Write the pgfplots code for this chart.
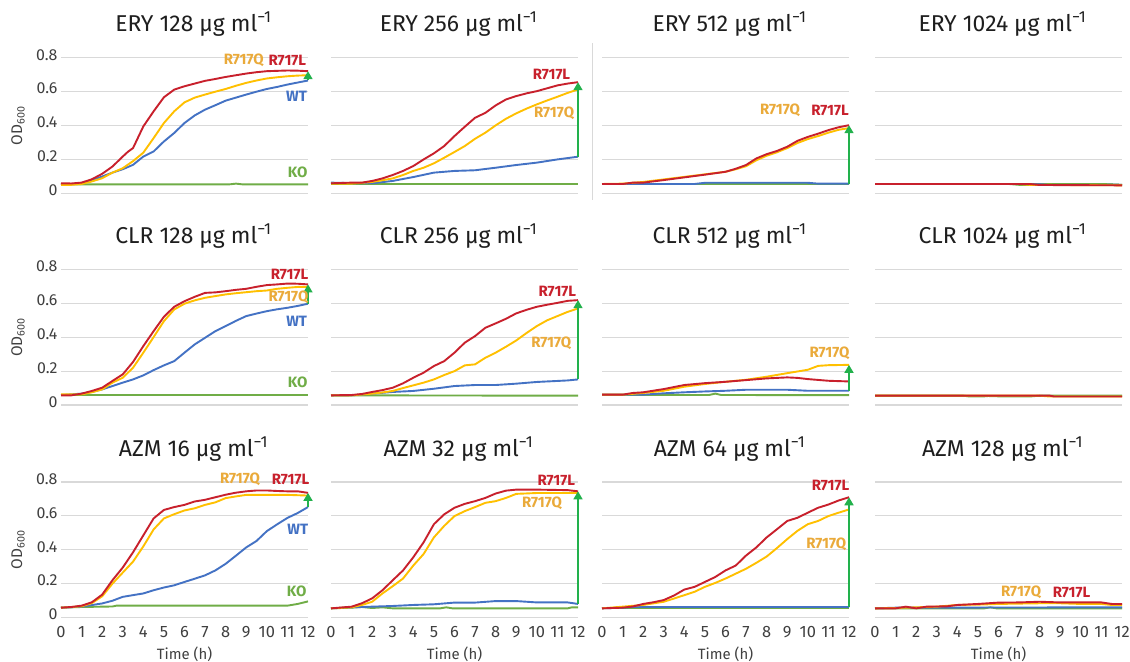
\documentclass[border=0pt]{standalone}
\usepackage{fontspec}
\setmainfont{Fira Sans}
\usepackage{pgfplots}
\pgfplotsset{compat=1.18}
\usetikzlibrary{arrows.meta}

\definecolor{cred}{RGB}{200,32,44}
\definecolor{cyel}{RGB}{255,192,0}
\definecolor{cgold}{RGB}{234,170,58}
\definecolor{cblue}{RGB}{68,114,196}
\definecolor{cgreen}{RGB}{112,173,71}
\definecolor{carrow}{RGB}{34,177,76}
\definecolor{cgrid}{RGB}{217,217,217}
\definecolor{ctext}{RGB}{30,30,30}
\definecolor{ctick}{RGB}{64,64,64}

\newcommand\conc[2]{#1~#2~μg~ml\textsuperscript{−1}}
\newcommand\grow[2]{\draw[carrow, line width=1.6bp, -{Triangle[length=8bp,width=9bp]}] (axis cs:12,#1) -- (axis cs:12,#2);}
\newcommand\lab[4]{\node[font=\fontsize{15}{17}\selectfont\bfseries, text=#1, inner sep=0pt] at (axis cs:#2,#3) {#4};}

\pgfplotsset{
  panel/.style={
    scale only axis, width=247bp, height=135.5bp, anchor=south west,
    xmin=0, xmax=12, ymin=0, ymax=0.8,
    axis line style={draw=none}, major tick style={draw=none},
    ytick={0,0.2,0.4,0.6,0.8}, xtick={0,1,2,3,4,5,6,7,8,9,10,11,12},
    yticklabels={}, xticklabels={},
    ymajorgrids, grid style={line width=1.1bp, draw=cgrid},
    clip=false,
    title style={font=\fontsize{23}{26}\selectfont, text=ctext, at={(0.5,1)}, anchor=base, yshift=20bp, xshift=4bp},
    yticklabel style={font=\fontsize{16}{18}\selectfont, text=ctick, yshift=3bp},
    xticklabel style={font=\fontsize{16.5}{18}\selectfont, text=ctick, yshift=-5bp},
    every axis plot/.append style={line width=1.9bp, line join=round, mark=none},
  },
  firstcol/.style={
    yticklabels={0,0.2,0.4,0.6,0.8},
    ylabel={OD\textsubscript{600}},
    ylabel style={at={(axis description cs:-0.174,0.5)}, anchor=center, font=\fontsize{15.5}{17}\selectfont, text=ctick},
    title style={xshift=5bp},
  },
  lastrow/.style={
    xticklabels={0,1,2,3,4,5,6,7,8,9,10,11,12},
    xlabel={Time (h)},
    xlabel style={at={(axis description cs:0.5,0)}, anchor=center, yshift=-37bp, font=\fontsize{15}{17}\selectfont, text=ctick},
  },
}

\begin{document}
\begin{tikzpicture}
\fill[white, use as bounding box] (0,0) rectangle (1130bp,662bp);
\draw[cgrid, line width=0.8bp] (592bp,462bp) -- (592bp,619bp);

% ---------------- Row 1: ERY ----------------
\begin{axis}[panel, firstcol, at={(61bp,468.7bp)}, title={\conc{ERY}{128}}]
\addplot[cgreen] coordinates {(0,0.053)(8.2,0.053)(8.5,0.057)(8.8,0.053)(12,0.053)};
\addplot[cblue] coordinates {(0,0.053)(0.5,0.054)(1,0.059)(1.5,0.077)(2,0.099)(2.5,0.122)(3,0.142)(3.5,0.168)(4,0.217)(4.5,0.247)(5,0.306)(5.5,0.356)(6,0.415)(6.5,0.46)(7,0.494)(7.5,0.52)(8,0.547)(8.5,0.565)(9,0.583)(9.5,0.6)(10,0.616)(10.5,0.628)(11,0.642)(11.5,0.654)(12,0.666)};
\addplot[cyel] coordinates {(0,0.049)(0.5,0.05)(1,0.055)(1.5,0.07)(2,0.089)(2.5,0.122)(3,0.148)(3.5,0.19)(4,0.24)(4.5,0.326)(5,0.415)(5.5,0.484)(6,0.537)(6.5,0.565)(7,0.583)(7.5,0.6)(8,0.616)(8.5,0.635)(9,0.652)(9.5,0.666)(10,0.678)(10.5,0.685)(11,0.691)(11.5,0.695)(12,0.697)};
\addplot[cred] coordinates {(0,0.059)(0.5,0.058)(1,0.063)(1.5,0.083)(2,0.115)(2.5,0.158)(3,0.217)(3.25,0.245)(3.5,0.267)(4,0.395)(4.5,0.484)(5,0.567)(5.5,0.612)(6,0.632)(6.5,0.648)(7,0.664)(7.5,0.675)(8,0.687)(8.5,0.697)(9,0.707)(9.5,0.715)(10,0.721)(10.5,0.723)(11,0.725)(11.5,0.724)(12,0.721)};
\grow{0.666}{0.721}
\lab{cgold}{8.88}{0.784}{R717Q}
\lab{cred}{11.0}{0.784}{R717L}
\lab{cblue}{11.44}{0.574}{WT}
\lab{cgreen}{11.5}{0.126}{KO}
\end{axis}

\begin{axis}[panel, at={(331bp,468.7bp)}, title={\conc{ERY}{256}}]
\addplot[cgreen] coordinates {(0,0.055)(12,0.055)};
\addplot[cblue] coordinates {(0,0.063)(1,0.06)(2,0.059)(3,0.073)(4,0.096)(5,0.122)(6,0.132)(7,0.136)(8,0.151)(9,0.167)(10,0.181)(11,0.2)(12,0.216)};
\addplot[cyel] coordinates {(0,0.057)(1,0.057)(2,0.067)(2.5,0.077)(3,0.088)(3.5,0.108)(4,0.132)(4.5,0.151)(5,0.177)(5.5,0.21)(6,0.244)(6.5,0.279)(7,0.322)(7.5,0.358)(8,0.401)(8.5,0.44)(9,0.472)(9.5,0.5)(10,0.525)(10.5,0.548)(11,0.57)(11.5,0.593)(12,0.613)};
\addplot[cred] coordinates {(0,0.059)(1,0.063)(1.5,0.063)(2,0.073)(2.5,0.088)(3,0.108)(3.5,0.132)(4,0.161)(4.5,0.2)(5,0.236)(5.5,0.279)(6,0.338)(6.5,0.393)(7,0.446)(7.5,0.475)(8,0.519)(8.5,0.554)(9,0.574)(9.5,0.59)(10,0.603)(10.5,0.62)(11,0.637)(11.5,0.648)(12,0.656)};
\grow{0.216}{0.656}
\lab{cred}{10.71}{0.703}{R717L}
\lab{cgold}{10.84}{0.475}{R717Q}
\end{axis}

\begin{axis}[panel, at={(602bp,468.7bp)}, title={\conc{ERY}{512}}]
\addplot[cgreen] coordinates {(0,0.053)(12,0.053)};
\addplot[cblue] coordinates {(0,0.055)(4.5,0.055)(5,0.062)(10,0.062)(10.5,0.057)(12,0.057)};
\addplot[cyel] coordinates {(0,0.055)(1,0.057)(2,0.067)(3,0.082)(4,0.097)(5,0.112)(6,0.127)(6.5,0.142)(7,0.16)(7.5,0.195)(8,0.222)(8.5,0.242)(9,0.267)(9.5,0.297)(10,0.32)(10.5,0.338)(11,0.358)(11.5,0.375)(12,0.385)};
\addplot[cred] coordinates {(0,0.055)(1,0.055)(1.5,0.063)(2,0.063)(3,0.078)(4,0.094)(5,0.11)(6,0.127)(6.5,0.145)(7,0.167)(7.5,0.206)(8,0.231)(8.5,0.25)(9,0.275)(9.5,0.31)(10,0.333)(10.5,0.352)(11,0.373)(11.5,0.39)(12,0.402)};
\grow{0.057}{0.402}
\lab{cgold}{8.65}{0.49}{R717Q}
\lab{cred}{11.08}{0.49}{R717L}
\end{axis}

\begin{axis}[panel, at={(875bp,468.7bp)}, title={\conc{ERY}{1024}}]
\addplot[cblue] coordinates {(0,0.055)(11,0.055)(12,0.05)};
\addplot[cgreen] coordinates {(0,0.055)(6.5,0.055)(7,0.05)(8,0.05)(8.5,0.055)(11,0.055)(12,0.05)};
\addplot[cyel] coordinates {(0,0.055)(7,0.055)(7.5,0.05)(12,0.047)};
\addplot[cred] coordinates {(0,0.055)(7.5,0.055)(8,0.049)(12,0.047)};
\end{axis}

% ---------------- Row 2: CLR ----------------
\begin{axis}[panel, firstcol, at={(61bp,257bp)}, title={\conc{CLR}{128}}]
\addplot[cgreen] coordinates {(0,0.057)(12,0.057)};
\addplot[cblue] coordinates {(0,0.059)(1,0.067)(1.5,0.077)(2,0.092)(2.5,0.112)(3,0.132)(3.5,0.151)(4,0.175)(4.5,0.206)(5,0.234)(5.5,0.259)(6,0.309)(6.5,0.358)(7,0.397)(7.5,0.436)(8,0.466)(8.5,0.497)(9,0.525)(9.5,0.54)(10,0.554)(10.5,0.565)(11,0.574)(11.5,0.585)(12,0.598)};
\addplot[cyel] coordinates {(0,0.063)(1,0.063)(1.5,0.075)(2,0.092)(2.5,0.132)(3,0.161)(3.5,0.22)(4,0.309)(4.5,0.401)(5,0.495)(5.5,0.564)(6,0.598)(6.5,0.618)(7,0.633)(7.5,0.643)(8,0.653)(8.5,0.66)(9,0.666)(9.5,0.672)(10,0.676)(10.5,0.686)(11,0.692)(11.5,0.697)(12,0.698)};
\addplot[cred] coordinates {(0,0.057)(0.5,0.057)(1,0.067)(1.5,0.083)(2,0.102)(2.5,0.142)(3,0.181)(3.5,0.254)(4,0.348)(4.5,0.436)(5,0.521)(5.5,0.58)(6,0.613)(6.5,0.639)(7,0.662)(7.5,0.665)(8,0.672)(8.5,0.68)(9,0.686)(9.5,0.698)(10,0.708)(10.5,0.712)(11,0.717)(11.5,0.716)(12,0.712)};
\grow{0.598}{0.712}
\lab{cred}{11.1}{0.77}{R717L}
\lab{cgold}{11.05}{0.633}{R717Q}
\lab{cblue}{11.45}{0.495}{WT}
\lab{cgreen}{11.5}{0.132}{KO}
\end{axis}

\begin{axis}[panel, at={(331bp,257bp)}, title={\conc{CLR}{256}}]
\addplot[cgreen] coordinates {(0,0.057)(12,0.055)};
\addplot[cblue] coordinates {(0,0.057)(1,0.057)(2,0.067)(3,0.077)(4,0.083)(5,0.096)(6,0.112)(7,0.118)(8,0.118)(9,0.126)(10,0.136)(11,0.142)(11.5,0.145)(12,0.151)};
\addplot[cyel] coordinates {(0,0.057)(1,0.057)(2,0.067)(2.5,0.074)(3,0.083)(3.5,0.1)(4,0.116)(4.5,0.132)(5,0.151)(5.5,0.177)(6,0.2)(6.5,0.234)(7,0.24)(7.5,0.279)(8,0.309)(8.5,0.344)(9,0.381)(9.5,0.425)(10,0.466)(10.5,0.5)(11,0.525)(11.5,0.55)(12,0.57)};
\addplot[cred] coordinates {(0,0.057)(1,0.059)(1.5,0.065)(2,0.077)(2.5,0.088)(3,0.102)(3.5,0.128)(4,0.161)(4.5,0.191)(5,0.23)(5.5,0.259)(6,0.309)(6.5,0.368)(7,0.407)(7.5,0.456)(8,0.482)(8.5,0.509)(9,0.541)(9.5,0.562)(10,0.58)(10.5,0.592)(11,0.603)(11.5,0.615)(12,0.619)};
\grow{0.151}{0.619}
\lab{cred}{11.0}{0.672}{R717L}
\lab{cgold}{10.7}{0.362}{R717Q}
\end{axis}

\begin{axis}[panel, at={(602bp,257bp)}, title={\conc{CLR}{512}}]
\addplot[cgreen] coordinates {(0,0.059)(5.2,0.059)(5.5,0.067)(5.8,0.059)(12,0.058)};
\addplot[cblue] coordinates {(0,0.061)(2,0.061)(3,0.069)(4,0.075)(5,0.08)(6,0.084)(7,0.09)(9,0.09)(10,0.084)(12,0.084)};
\addplot[cyel] coordinates {(0,0.061)(1,0.061)(2,0.071)(3,0.084)(4,0.108)(5,0.124)(6,0.137)(7,0.149)(8,0.167)(9,0.188)(10,0.208)(10.5,0.231)(11,0.235)(12,0.237)};
\addplot[cred] coordinates {(0,0.061)(1,0.061)(1.5,0.071)(2,0.075)(3,0.094)(4,0.118)(5,0.129)(6,0.137)(7,0.147)(8,0.157)(9,0.163)(9.5,0.16)(10,0.153)(11,0.143)(12,0.139)};
\grow{0.084}{0.237}
\lab{cgold}{11.05}{0.304}{R717Q}
\end{axis}

\begin{axis}[panel, at={(875bp,257bp)}, title={\conc{CLR}{1024}}]
\addplot[cblue] coordinates {(0,0.055)(12,0.055)};
\addplot[cgreen] coordinates {(0,0.055)(4.3,0.055)(4.6,0.05)(5.2,0.05)(5.5,0.053)(6.3,0.05)(7.5,0.05)(8,0.055)(12,0.055)};
\addplot[cyel] coordinates {(0,0.055)(8,0.055)(8.5,0.05)(12,0.05)};
\addplot[cred] coordinates {(0,0.055)(8.5,0.055)(8.7,0.05)(12,0.05)};
\end{axis}

% ---------------- Row 3: AZM ----------------
\begin{axis}[panel, firstcol, lastrow, at={(61bp,44.5bp)}, title={\conc{AZM}{16}}]
\addplot[cgreen] coordinates {(0,0.058)(1,0.062)(2.5,0.065)(2.7,0.07)(11,0.07)(11.5,0.08)(12,0.095)};
\addplot[cblue] coordinates {(0,0.058)(1,0.064)(2,0.083)(2.5,0.099)(3,0.122)(4,0.142)(4.5,0.161)(5,0.177)(5.5,0.19)(6,0.21)(6.5,0.229)(7,0.249)(7.5,0.278)(8,0.317)(8.5,0.365)(9,0.414)(9.5,0.452)(10,0.51)(10.5,0.55)(11,0.588)(11.5,0.617)(12,0.652)};
\addplot[cyel] coordinates {(0,0.058)(1,0.066)(1.5,0.085)(2,0.125)(2.5,0.2)(3,0.265)(3.5,0.33)(4,0.42)(4.5,0.52)(5,0.585)(5.5,0.61)(6,0.632)(6.5,0.645)(7,0.665)(7.5,0.68)(8,0.705)(8.5,0.715)(9,0.724)(10,0.724)(11,0.724)(12,0.72)};
\addplot[cred] coordinates {(0,0.058)(0.5,0.062)(1,0.07)(1.5,0.09)(2,0.135)(2.5,0.22)(3,0.295)(3.5,0.385)(4,0.485)(4.5,0.585)(5,0.635)(5.5,0.652)(6,0.665)(6.5,0.685)(7,0.695)(7.5,0.71)(8,0.725)(8.5,0.737)(9,0.745)(9.5,0.75)(10,0.75)(10.5,0.747)(11,0.745)(11.5,0.745)(12,0.736)};
\grow{0.652}{0.736}
\lab{cgold}{8.7}{0.815}{R717Q}
\lab{cred}{11.15}{0.815}{R717L}
\lab{cblue}{11.5}{0.52}{WT}
\lab{cgreen}{11.45}{0.156}{KO}
\end{axis}

\begin{axis}[panel, lastrow, at={(331bp,44.5bp)}, title={\conc{AZM}{32}}]
\addplot[cgreen] coordinates {(0,0.054)(1,0.058)(1.5,0.062)(2,0.056)(2.5,0.06)(3,0.054)(5.3,0.054)(5.6,0.06)(5.9,0.054)(11.5,0.054)(11.7,0.06)(12,0.06)};
\addplot[cblue] coordinates {(0,0.054)(1,0.06)(2,0.064)(3,0.068)(4,0.074)(5,0.078)(6,0.088)(7,0.088)(8,0.097)(9,0.097)(10,0.089)(11.5,0.089)(12,0.08)};
\addplot[cyel] coordinates {(0,0.054)(1,0.06)(1.5,0.074)(2,0.093)(2.5,0.142)(3,0.185)(3.5,0.23)(4,0.307)(4.5,0.375)(5,0.473)(5.5,0.541)(6,0.599)(6.5,0.628)(7,0.652)(7.5,0.677)(8,0.687)(8.5,0.706)(9,0.73)(10,0.735)(11,0.735)(12,0.735)};
\addplot[cred] coordinates {(0,0.054)(1,0.064)(1.5,0.084)(2,0.113)(2.5,0.161)(3,0.22)(3.5,0.278)(4,0.356)(4.5,0.444)(5,0.551)(5.5,0.609)(6,0.648)(6.5,0.671)(7,0.687)(7.5,0.706)(8,0.732)(8.5,0.749)(9,0.755)(10,0.755)(11,0.753)(11.5,0.752)(12,0.745)};
\grow{0.08}{0.745}
\lab{cred}{10.95}{0.808}{R717L}
\lab{cgold}{10.25}{0.677}{R717Q}
\end{axis}

\begin{axis}[panel, lastrow, at={(602bp,44.5bp)}, title={\conc{AZM}{64}}]
\addplot[cgreen] coordinates {(0,0.053)(12,0.053)};
\addplot[cblue] coordinates {(0,0.054)(1,0.058)(1.5,0.062)(12,0.062)};
\addplot[cyel] coordinates {(0,0.054)(1,0.064)(2,0.074)(3,0.093)(3.5,0.112)(4,0.132)(4.5,0.152)(5,0.181)(5.5,0.204)(6,0.23)(6.5,0.259)(7,0.288)(7.5,0.323)(8,0.36)(8.5,0.41)(9,0.463)(9.5,0.512)(10,0.551)(10.5,0.57)(11,0.599)(11.5,0.619)(12,0.638)};
\addplot[cred] coordinates {(0,0.054)(1,0.058)(1.5,0.065)(2,0.08)(2.5,0.09)(3,0.103)(3.5,0.13)(4,0.165)(4.5,0.181)(5,0.21)(5.5,0.239)(6,0.278)(6.5,0.307)(7,0.366)(7.5,0.414)(8,0.473)(8.5,0.521)(9,0.57)(9.5,0.589)(10,0.619)(10.5,0.648)(11,0.667)(11.5,0.691)(12,0.71)};
\grow{0.062}{0.71}
\lab{cred}{11.1}{0.78}{R717L}
\lab{cgold}{10.9}{0.433}{R717Q}
\end{axis}

\begin{axis}[panel, lastrow, at={(875bp,44.5bp)}, title={\conc{AZM}{128}}]
\addplot[cgreen] coordinates {(0,0.054)(5.3,0.054)(5.6,0.06)(5.9,0.054)(12,0.054)};
\addplot[cblue] coordinates {(0,0.054)(1,0.058)(12,0.06)};
\addplot[cyel] coordinates {(0,0.054)(1,0.056)(2,0.06)(3,0.064)(4,0.074)(5,0.076)(6,0.08)(7,0.082)(8,0.084)(9,0.084)(10,0.08)(11,0.08)(11.5,0.074)(12,0.074)};
\addplot[cred] coordinates {(0,0.054)(1,0.054)(1.5,0.064)(2,0.054)(2.5,0.064)(3.5,0.066)(4,0.074)(5,0.08)(5.5,0.084)(6,0.088)(7,0.089)(8,0.093)(9,0.089)(11,0.089)(11.5,0.08)(12,0.08)};
\lab{cgold}{7.1}{0.146}{R717Q}
\lab{cred}{9.55}{0.146}{R717L}
\end{axis}
\end{tikzpicture}
\end{document}
